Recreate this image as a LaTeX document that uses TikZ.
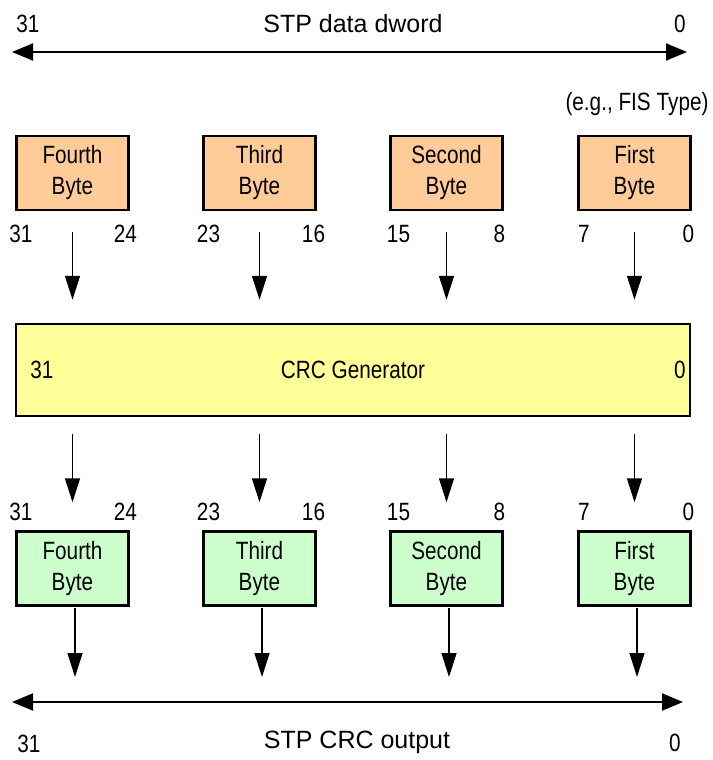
\documentclass[tikz,border=0pt]{standalone}
\usepackage{fontspec}
\setmainfont{Liberation Sans}[FakeStretch=0.83]
\newfontfamily\widefont{Liberation Sans}
\usepackage{tikz}
\usetikzlibrary{arrows.meta}

\definecolor{srcfill}{RGB}{255,204,153}
\definecolor{crcfill}{RGB}{255,255,153}
\definecolor{outfill}{RGB}{204,255,204}

\begin{document}
\begin{tikzpicture}[x=1pt, y=-1pt,
  every node/.style={font=\fontsize{25}{31}\selectfont, inner sep=0pt},
  title/.style={font=\widefont\fontsize{25}{31}\selectfont},
  bytebox/.style={draw, line width=2.5pt, minimum width=112pt, minimum height=74pt, align=center},
  srcbox/.style={bytebox, fill=srcfill},
  outbox/.style={bytebox, fill=outfill},
  crcbox/.style={draw, line width=2.5pt, fill=crcfill, minimum width=674pt, minimum height=92pt},
  vflow/.style={line width=1.5pt, -{Triangle[length=24pt, width=15pt]}},
  hflow/.style={line width=2pt, {Triangle[length=21pt, width=17pt]}-{Triangle[length=21pt, width=17pt]}}]

\useasboundingbox (0,0) rectangle (712,760);

% dword on top
\coordinate (dwL) at (12,52);
\coordinate (dwR) at (687,52);
\draw[hflow] (dwL) -- (dwR);
\node (dw31) at (28,24) {31};
\node[title] (dwname) at (353,24) {STP data dword};
\node (dw0) at (680,24) {0};
\node (fistype) at (637,104) {(e.g., FIS Type)};

% input bytes
\node[srcbox] (src4) at (72.5,173) {Fourth\\Byte};
\node[srcbox] (src3) at (259.5,173) {Third\\Byte};
\node[srcbox] (src2) at (446.5,173) {Second\\Byte};
\node[srcbox] (src1) at (634.5,173) {First\\Byte};

\node (s31) at (21,234) {31};
\node (s24) at (125.5,234) {24};
\node (s23) at (208.5,234) {23};
\node (s16) at (313.5,234) {16};
\node (s15) at (398.5,234) {15};
\node (s8) at (499.5,234) {8};
\node (s7) at (584,234) {7};
\node (s0) at (688.5,234) {0};

% generator
\node[crcbox] (crc) at (353,370) {CRC Generator};
\node (c31) at (42,370) {31};
\node (c0) at (680,370) {0};

\draw[vflow, shorten <=21pt, shorten >=23pt] (src4.south) -- (src4.south |- crc.north);
\draw[vflow, shorten <=21pt, shorten >=23pt] (src3.south) -- (src3.south |- crc.north);
\draw[vflow, shorten <=21pt, shorten >=23pt] (src2.south) -- (src2.south |- crc.north);
\draw[vflow, shorten <=21pt, shorten >=23pt] (src1.south) -- (src1.south |- crc.north);

% output bytes
\node[outbox] (out4) at (72.5,568.5) {Fourth\\Byte};
\node[outbox] (out3) at (259.5,568.5) {Third\\Byte};
\node[outbox] (out2) at (446.5,568.5) {Second\\Byte};
\node[outbox] (out1) at (634.5,568.5) {First\\Byte};

\node (o31) at (21,512) {31};
\node (o24) at (125.5,512) {24};
\node (o23) at (208.5,512) {23};
\node (o16) at (313.5,512) {16};
\node (o15) at (398.5,512) {15};
\node (o8) at (499.5,512) {8};
\node (o7) at (584,512) {7};
\node (o0) at (688.5,512) {0};

\draw[vflow, shorten <=17pt, shorten >=28pt] (crc.south -| out4.north) -- (out4.north);
\draw[vflow, shorten <=17pt, shorten >=28pt] (crc.south -| out3.north) -- (out3.north);
\draw[vflow, shorten <=17pt, shorten >=28pt] (crc.south -| out2.north) -- (out2.north);
\draw[vflow, shorten <=17pt, shorten >=28pt] (crc.south -| out1.north) -- (out1.north);

% crc output
\coordinate (cvL) at (12,702);
\coordinate (cvR) at (683,702);
\draw[hflow] (cvL) -- (cvR);
\node (cv31) at (29,744) {31};
\node[title] (cvname) at (357,742) {STP CRC output};
\node (cv0) at (675,743) {0};

\draw[vflow, shorten <=1pt, shorten >=25pt] ([xshift=2.5pt]out4.south) -- ([xshift=2.5pt]out4.south |- cvL);
\draw[vflow, shorten <=1pt, shorten >=25pt] ([xshift=2.5pt]out3.south) -- ([xshift=2.5pt]out3.south |- cvL);
\draw[vflow, shorten <=1pt, shorten >=25pt] ([xshift=2.5pt]out2.south) -- ([xshift=2.5pt]out2.south |- cvL);
\draw[vflow, shorten <=1pt, shorten >=25pt] ([xshift=2.5pt]out1.south) -- ([xshift=2.5pt]out1.south |- cvL);

\end{tikzpicture}
\end{document}
